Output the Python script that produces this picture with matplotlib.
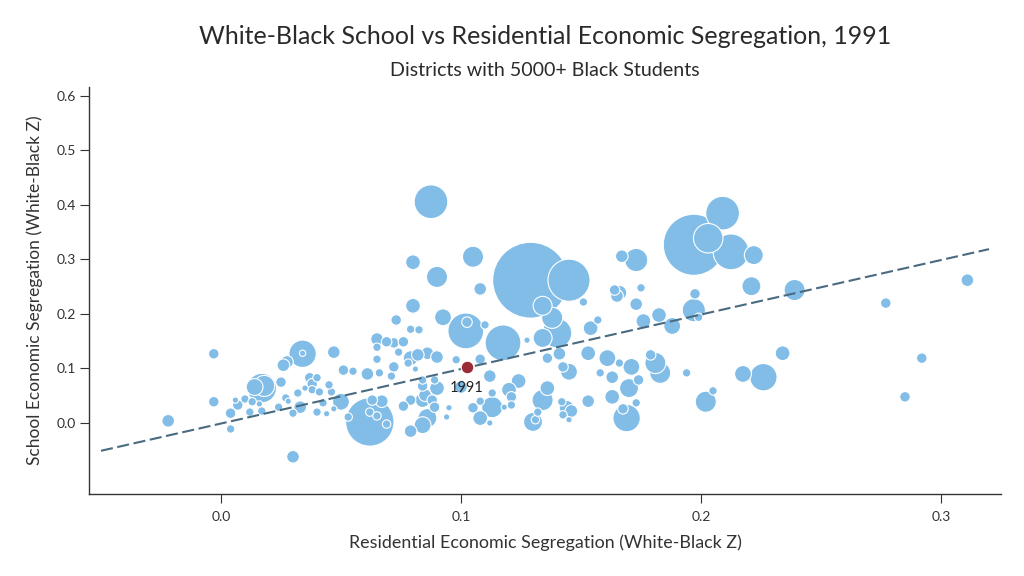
import matplotlib
matplotlib.use("Agg")
import matplotlib.pyplot as plt
import numpy as np

# Residential (x) and school (y) economic segregation, Black enrollment (thousands)
res_seg = [-0.022, -0.003, -0.003, 0.004, 0.030, 0.004, 0.007, 0.006, 0.010, 0.012,
           0.013, 0.016, 0.017, 0.018, 0.014, 0.017, 0.025, 0.026, 0.0275, 0.034,
           0.034, 0.027, 0.028, 0.024, 0.032, 0.033, 0.030, 0.037, 0.038, 0.040,
           0.038, 0.035, 0.041, 0.045, 0.046, 0.040, 0.0425, 0.044, 0.047, 0.050,
           0.053, 0.047, 0.051, 0.055, 0.061, 0.066, 0.065, 0.065, 0.069, 0.072,
           0.076, 0.074, 0.065, 0.079, 0.082, 0.086, 0.090, 0.078, 0.081, 0.072,
           0.071, 0.098, 0.080, 0.073, 0.0925, 0.079, 0.0825, 0.102, 0.1025, 0.110,
           0.0875, 0.080, 0.105, 0.090, 0.108, 0.062, 0.063, 0.067, 0.062, 0.065,
           0.069, 0.084, 0.084, 0.089, 0.090, 0.085, 0.084, 0.079, 0.076, 0.088,
           0.089, 0.095, 0.094, 0.086, 0.084, 0.079, 0.100, 0.108, 0.112, 0.124,
           0.120, 0.121, 0.121, 0.118, 0.113, 0.113, 0.108, 0.105, 0.108, 0.112,
           0.1175, 0.1275, 0.134, 0.140, 0.138, 0.134, 0.129, 0.145, 0.151, 0.141,
           0.136, 0.1425, 0.145, 0.154, 0.157, 0.153, 0.161, 0.158, 0.163, 0.163,
           0.153, 0.136, 0.134, 0.132, 0.130, 0.131, 0.142, 0.144, 0.146, 0.1425,
           0.145, 0.167, 0.173, 0.209, 0.197, 0.203, 0.2125, 0.222, 0.221, 0.166,
           0.164, 0.165, 0.175, 0.173, 0.1975, 0.197, 0.199, 0.1825, 0.176, 0.188,
           0.166, 0.171, 0.179, 0.181, 0.183, 0.174, 0.170, 0.194, 0.2175, 0.226,
           0.173, 0.205, 0.202, 0.169, 0.1675, 0.239, 0.277, 0.311, 0.234, 0.292,
           0.285]
sch_seg = [0.004, 0.127, 0.039, -0.011, -0.062, 0.018, 0.033, 0.042, 0.044, 0.020,
           0.039, 0.035, 0.064, 0.068, 0.066, 0.022, 0.075, 0.106, 0.112, 0.127,
           0.128, 0.046, 0.040, 0.029, 0.055, 0.029, 0.018, 0.083, 0.072, 0.083,
           0.061, 0.064, 0.057, 0.070, 0.057, 0.020, 0.037, 0.017, 0.026, 0.039,
           0.011, 0.130, 0.097, 0.095, 0.090, 0.092, 0.154, 0.139, 0.149, 0.147,
           0.149, 0.130, 0.117, 0.119, 0.125, 0.128, 0.121, 0.110, 0.099, 0.103,
           0.086, 0.116, 0.215, 0.189, 0.194, 0.172, 0.171, 0.169, 0.185, 0.180,
           0.406, 0.295, 0.305, 0.268, 0.246, 0.002, 0.042, 0.040, 0.020, 0.013,
           -0.002, 0.079, 0.068, 0.079, 0.064, 0.051, 0.042, 0.042, 0.031, 0.042,
           0.029, 0.028, 0.011, 0.009, -0.004, -0.015, 0.066, 0.117, 0.086, 0.077,
           0.061, 0.048, 0.033, 0.029, 0.055, 0.029, 0.040, 0.028, 0.009, 0.000,
           0.147, 0.152, 0.156, 0.165, 0.193, 0.215, 0.262, 0.262, 0.222, 0.127,
           0.119, 0.103, 0.094, 0.174, 0.189, 0.128, 0.119, 0.092, 0.084, 0.048,
           0.040, 0.064, 0.042, 0.020, 0.002, 0.006, 0.039, 0.028, 0.022, 0.015,
           0.006, 0.306, 0.299, 0.385, 0.327, 0.339, 0.314, 0.308, 0.251, 0.239,
           0.244, 0.233, 0.248, 0.218, 0.237, 0.207, 0.194, 0.198, 0.187, 0.178,
           0.110, 0.103, 0.125, 0.110, 0.092, 0.079, 0.064, 0.092, 0.090, 0.084,
           0.037, 0.059, 0.039, 0.009, 0.026, 0.244, 0.220, 0.262, 0.128, 0.119,
           0.048]
black_k = [18, 12.5, 12.5, 8, 18, 12.5, 12.5, 4.5, 8, 8,
           8, 4.5, 98, 50, 32, 8, 12.5, 18, 18, 84.5,
           4.5, 8, 4.5, 8, 8, 18, 8, 12.5, 12.5, 8,
           8, 4.5, 8, 8, 8, 8, 8, 4.5, 4.5, 32,
           8, 18, 12.5, 8, 18, 8, 18, 8, 12.5, 12.5,
           12.5, 8, 8, 24.5, 18, 18, 18, 8, 4.5, 12.5,
           8, 8, 24.5, 12.5, 32, 8, 8, 144.5, 12.5, 8,
           128, 24.5, 50, 50, 18, 264.5, 12.5, 18, 8, 8,
           8, 8, 12.5, 8, 24.5, 18, 24.5, 12.5, 12.5, 12.5,
           12.5, 4.5, 4.5, 40.5, 32, 18, 18, 12.5, 18, 24.5,
           24.5, 12.5, 8, 4.5, 8, 50, 8, 12.5, 24.5, 4.5,
           144.5, 4.5, 40.5, 98, 50, 40.5, 648, 200, 8, 18,
           12.5, 12.5, 32, 24.5, 8, 24.5, 32, 8, 18, 24.5,
           18, 24.5, 50, 8, 40.5, 8, 8, 24.5, 18, 8,
           4.5, 18, 60.5, 128, 420.5, 98, 144.5, 40.5, 40.5, 24.5,
           12.5, 18, 8, 18, 12.5, 60.5, 8, 24.5, 24.5, 32,
           8, 32, 12.5, 50, 50, 12.5, 40.5, 8, 32, 84.5,
           8, 8, 50, 84.5, 12.5, 50, 12.5, 18, 24.5, 12.5,
           12.5]

# Highlighted national point
year_label = "1991"
year_x = [0.1025]
year_y = [0.103]
year_k = [18]

# Fitted line endpoints
fit_x = [-0.05, 0.32]
fit_y = [-0.051, 0.319]

x_ticks = [0.0, 0.1, 0.2, 0.3]
y_ticks = [0.0, 0.1, 0.2, 0.3, 0.4, 0.5, 0.6]

FONT = "Lato"
TXT = "#333333"
plt.rcParams["font.family"] = [FONT, "DejaVu Sans"]

fig = plt.figure(figsize=(10.24, 5.76), dpi=100)
ax = fig.add_axes([89 / 1024, 82 / 576, 912 / 1024, 407 / 576])

area_per_k = 4.6
order = np.argsort(black_k)[::-1]
xs = np.array(res_seg)[order]
ys = np.array(sch_seg)[order]
ss = np.array(black_k)[order] * area_per_k
ax.scatter(xs, ys, s=ss, c="#82bde7", edgecolors="white", linewidths=0.8, zorder=2)

ax.plot(fit_x, fit_y, color="#4a6a80", lw=1.5, dashes=(5.8, 2.2), zorder=3)

ax.scatter(year_x, year_y, s=np.array(year_k) * area_per_k, c="#9b2c35",
           edgecolors="white", linewidths=0.8, zorder=4)
ax.annotate(year_label, (year_x[0], year_y[0]), xytext=(0, -15),
            textcoords="offset points", ha="center", va="center",
            fontsize=10.5, color="#222222", zorder=5)

ax.set_xlim(-0.055, 0.325)
ax.set_ylim(-0.1303, 0.6165)
ax.set_xticks(x_ticks)
ax.set_yticks(y_ticks)
ax.set_xticklabels([f"{v:.1f}" for v in x_ticks])
ax.set_yticklabels([f"{v:.1f}" for v in y_ticks])

for side in ("top", "right"):
    ax.spines[side].set_visible(False)
for side in ("left", "bottom"):
    ax.spines[side].set_color("#333333")
    ax.spines[side].set_linewidth(1.0)

ax.tick_params(axis="x", length=6.5, width=0.8, color="#333333", pad=6,
               labelsize=10, labelcolor=TXT)
ax.tick_params(axis="y", length=6.5, width=0.8, color="#333333", pad=3,
               labelsize=10, labelcolor=TXT)

ax.set_xlabel("Residential Economic Segregation (White-Black Z)", fontsize=12.9,
              color=TXT, labelpad=8)
ax.set_ylabel("School Economic Segregation (White-Black Z)", fontsize=12.5,
              color=TXT, labelpad=10)

fig.text(545 / 1024, 1 - 36 / 576, "White-Black School vs Residential Economic Segregation, 1991",
         ha="center", va="center", fontsize=18.0, color="#2a2a2a", fontweight="normal")
fig.text(545 / 1024, 1 - 71 / 576, "Districts with 5000+ Black Students",
         ha="center", va="center", fontsize=14.1, color="#2a2a2a")

fig.savefig("out.png", dpi=100, facecolor="white")
